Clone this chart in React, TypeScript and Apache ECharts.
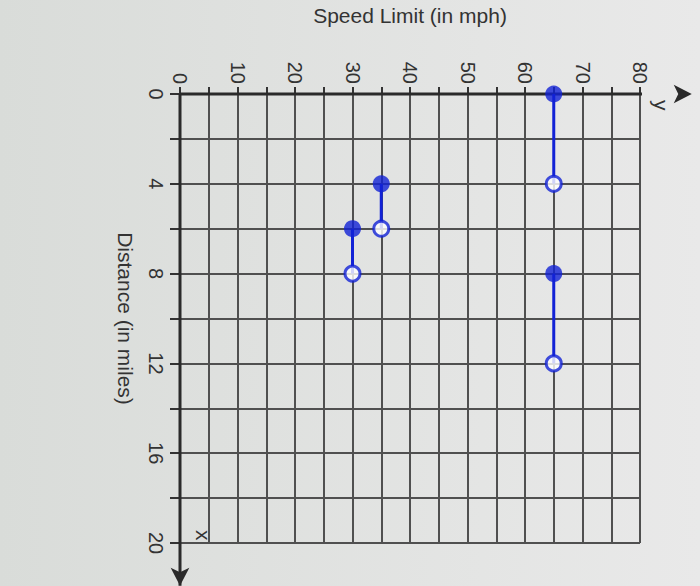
import React, { useEffect, useRef } from "react";
import * as echarts from "echarts";

const speedLimits = [65, 35, 30, 65];
const startMiles = [0, 4, 6, 8];
const endMiles = [4, 6, 8, 12];
const speedAxisEnd = 89;
const distanceAxisEnd = 21.9;

export default function App() {
  const ref = useRef<HTMLDivElement>(null);
  useEffect(() => {
    document.body.style.margin = "0";
    const chart = echarts.init(ref.current!, null, { renderer: "svg" });
    const blue = "#1222d6";
    const segs = speedLimits.map((s, i) => ({
      type: "line",
      data: [[s, startMiles[i]], [s, endMiles[i]]],
      symbol: "none",
      lineStyle: { color: blue, width: 3 },
      z: 5,
    }));
    chart.setOption({
      animation: false,
      backgroundColor: {
        type: "linear", x: 0, y: 0, x2: 1, y2: 0,
        colorStops: [{ offset: 0, color: "#d9dcd9" }, { offset: 1, color: "#e9e9e9" }],
      },
      grid: { left: 180, right: 60, top: 88, bottom: 43 },
      xAxis: {
        type: "value", position: "top", min: 0, max: 80, interval: 5,
        name: "Speed Limit (in mph)", nameLocation: "middle", nameGap: 68,
        nameTextStyle: { fontSize: 21, color: "#333", fontFamily: "Liberation Sans" },
        axisLine: { show: false },
        axisTick: { show: true, length: 7, lineStyle: { color: "#333", width: 2 } },
        axisLabel: {
          rotate: -90, fontSize: 20, color: "#333", margin: 10, fontFamily: "Liberation Sans",
          formatter: (v: number) => (v % 10 === 0 ? String(v) : ""),
        },
        splitLine: { show: true, lineStyle: { color: "#505050", width: 2 } },
      },
      yAxis: {
        type: "value", inverse: true, min: 0, max: 20, interval: 2,
        name: "Distance (in miles)", nameLocation: "middle", nameGap: 44, nameRotate: -90,
        nameTextStyle: { fontSize: 21, color: "#333", fontFamily: "Liberation Sans" },
        axisLine: { show: false },
        axisTick: { show: true, length: 10, lineStyle: { color: "#333", width: 2 } },
        axisLabel: {
          rotate: -90, fontSize: 20, color: "#333", margin: 14, fontFamily: "Liberation Sans",
          formatter: (v: number) => (v % 4 === 0 ? String(v) : ""),
        },
        splitLine: { show: true, lineStyle: { color: "#505050", width: 2 } },
      },
      graphic: [
        { type: "text", x: 672, y: 100, rotation: -Math.PI / 2, style: { text: "y", fontSize: 21, fill: "#333", fontFamily: "Liberation Sans" } },
        { type: "text", x: 214, y: 530, rotation: -Math.PI / 2, style: { text: "x", fontSize: 21, fill: "#333", fontFamily: "Liberation Sans" } },
      ],
      series: [
        {
          type: "line", clip: false, z: 4,
          data: [
            { value: [0, 0], symbol: "none" },
            { value: [speedAxisEnd, 0], symbol: "arrow", symbolSize: [14, 18], symbolRotate: -90, itemStyle: { color: "#2a2a2a" } },
          ],
          lineStyle: { color: "#2a2a2a", width: 3 },
        },
        {
          type: "line", clip: false, z: 4,
          data: [
            { value: [0, 0], symbol: "none" },
            { value: [0, distanceAxisEnd], symbol: "arrow", symbolSize: [14, 18], symbolRotate: 180, itemStyle: { color: "#2a2a2a" } },
          ],
          lineStyle: { color: "#2a2a2a", width: 3 },
        },
        ...segs,
        {
          type: "scatter", z: 6, symbolSize: 17,
          data: speedLimits.map((s, i) => [s, startMiles[i]]),
          itemStyle: { color: blue },
        },
        {
          type: "scatter", z: 6, symbolSize: 15,
          data: speedLimits.map((s, i) => [s, endMiles[i]]),
          itemStyle: { color: "#fff", borderColor: blue, borderWidth: 3 },
        },
      ],
    });
    return () => chart.dispose();
  }, []);
  return <div ref={ref} style={{ width: 700, height: 586 }} />;
}
